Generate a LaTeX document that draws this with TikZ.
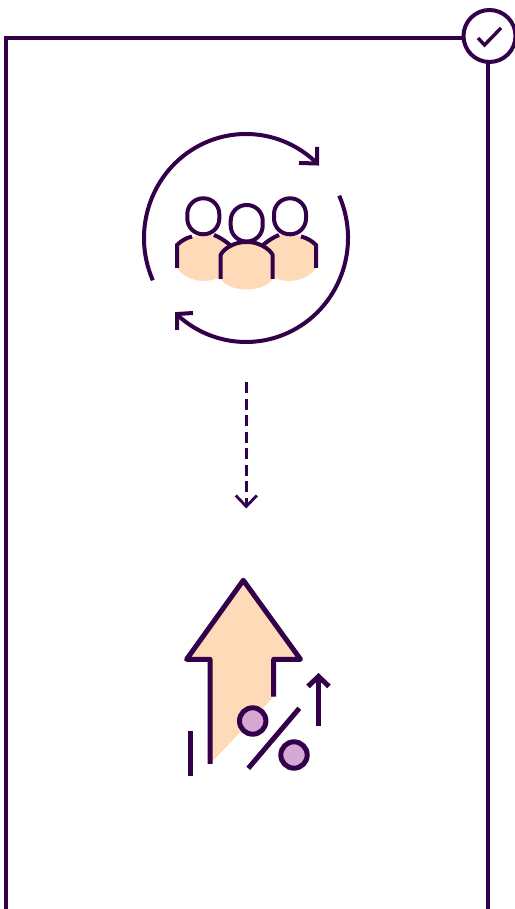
\documentclass[tikz,border=0pt]{standalone}
\usepackage{amsmath,amssymb}
\usetikzlibrary{arrows.meta}
\definecolor{plum}{HTML}{33004A}
\definecolor{peach}{HTML}{FEDAB8}
\definecolor{lilac}{HTML}{D6A8D4}
\tikzset{
    outline/.style={draw=plum,line width=4pt},
    heavy/.style={draw=plum,line width=5pt},
    skin/.style={fill=peach,draw=none},
    percentdot/.style={heavy,fill=lilac},
    headshape/.style={outline,fill=white,rounded corners=15.8pt},
}

\begin{document}
\begin{tikzpicture}[x=1pt,y=1pt,>=Stealth]
        \useasboundingbox (0,0) rectangle (514,909);
        \fill [white] (0,0) rectangle (514,909);
        \coordinate (frameleft) at (6,0);
        \coordinate (framecorner) at (6,870.5);
        \coordinate (frameright) at (487.5,0);
        \coordinate (checkcenter) at (489.5,873);
        \coordinate (ringcenter) at (246,671);
        \coordinate (flowstart) at (246.3,526.5);
        \coordinate (flowend) at (246.3,400.5);
        \coordinate (risestart) at (318.5,182.5);
        \coordinate (riseend) at (318.5,236);
        \draw [outline] (frameleft) -- (framecorner) -- (checkcenter |- framecorner);
        \draw [outline] (frameright) -- (frameright |- checkcenter);
        \draw [outline,fill=white] (checkcenter) circle [radius=26];
        \draw [draw=plum,line width=3.4pt] (478,871) -- (484.5,864) -- (501,881);
        \draw [outline] ([shift=(204:102 and 104)]ringcenter) arc [start angle=204,end angle=46,x radius=102,y radius=104];
        \draw [outline] (299,746) -- (317,745.5) -- (317,762);
        \draw [outline] ([shift=(24:102 and 104)]ringcenter) arc [start angle=24,end angle=-132,x radius=102,y radius=104];
        \draw [outline] (193,596) -- (177,595) -- (177,579);
        \fill [skin] (177,641) -- (177,664) .. controls (181,668) and (186,671) .. (192,672.5) -- (214,674) .. controls (219,672) and (224,669) .. (230,664) -- (230,640) .. controls (216,623) and (188,625) .. (177,641) -- cycle;
        \fill [skin] (316,641) -- (316,664) .. controls (312,668) and (307,671) .. (301,672.5) -- (279,674) .. controls (274,672) and (269,669) .. (263,664) -- (263,640) .. controls (277,623) and (305,625) .. (316,641) -- cycle;
        \draw [outline] (177,641) -- (177,664) .. controls (181,668) and (186,671) .. (192,672.5);
        \draw [outline] (214,674) .. controls (219,672) and (224,669) .. (230,664);
        \draw [outline] (316,641) -- (316,664) .. controls (312,668) and (307,671) .. (301,672.5);
        \draw [outline] (279,674) .. controls (274,672) and (269,669) .. (263,664);
        \fill [skin] (220.7,630) -- (220.7,654) .. controls (223,660) and (235,667.5) .. (246.7,667) .. controls (258,667.5) and (270,660) .. (272.7,654) -- (272.7,630) .. controls (263,616) and (230,616) .. (220.7,630) -- cycle;
        \draw [outline] (220.7,630) -- (220.7,654) .. controls (223,660) and (235,667.5) .. (246.7,667) .. controls (258,667.5) and (270,660) .. (272.7,654) -- (272.7,630);
        \draw [headshape] (187.3,674.7) rectangle (219.3,710.7);
        \draw [headshape] (230.7,667.5) rectangle (262.7,704);
        \draw [headshape] (274,674.7) rectangle (306,710.7);
        \draw [draw=plum,line width=2.8pt,dash pattern=on 11pt off 5.5pt,-{Straight Barb[length=11pt,width=21pt]}] (flowstart) -- (flowend);
        \fill [skin] (243.3,328.7) -- (186.6,249.7) -- (210,249.7) -- (210,145) -- (273.7,212.3) -- (273.7,249.7) -- (300.5,249.7) -- cycle;
        \draw [heavy,line join=round] (210,145) -- (210,249.7) -- (186.6,249.7) -- (243.3,328.7) -- (300.5,249.7) -- (273.7,249.7) -- (273.7,212.3);
        \draw [heavy] (190.7,133.3) -- (190.7,178.3);
        \draw [heavy] (248.3,140.7) -- (299.3,200.7);
        \draw [percentdot] (252.7,188) circle [radius=13.2];
        \draw [percentdot] (294,154) circle [radius=13.2];
        \draw [heavy,-{Straight Barb[length=10pt,width=21pt]}] (risestart) -- (riseend);
    \end{tikzpicture}
\end{document}
